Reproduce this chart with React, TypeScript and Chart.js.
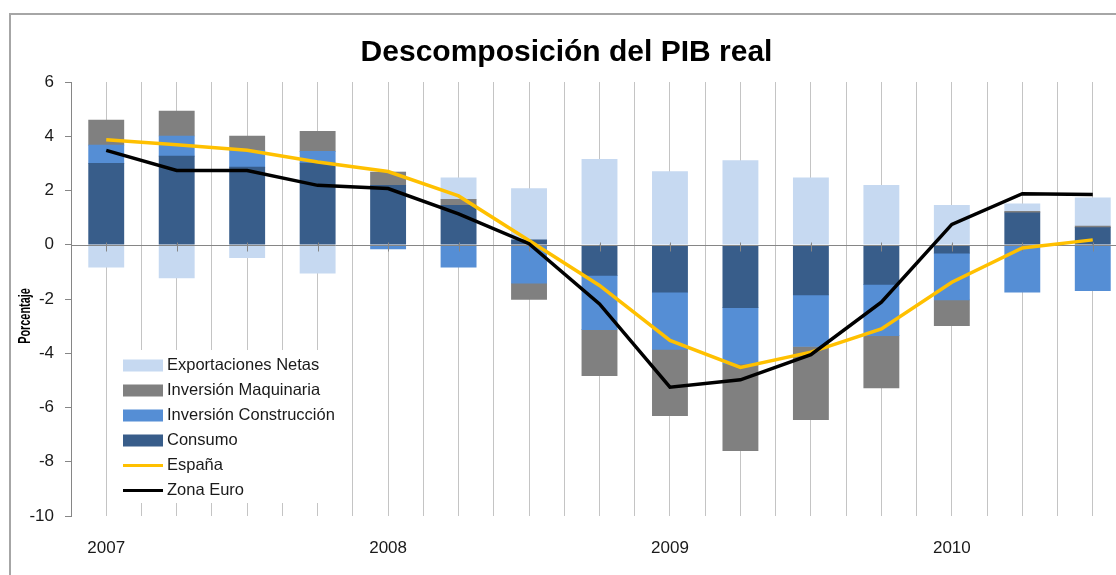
import React, { useEffect, useRef } from 'react';
import { Chart, registerables } from 'chart.js';

Chart.register(...registerables);

// ---- Data ----
const QUARTERS = [
  '2007 T1', '2007 T2', '2007 T3', '2007 T4',
  '2008 T1', '2008 T2', '2008 T3', '2008 T4',
  '2009 T1', '2009 T2', '2009 T3', '2009 T4',
  '2010 T1', '2010 T2', '2010 T3',
];
const YEAR_LABELS = ['2007', '2008', '2009', '2010'];
const Y_MIN = -10;
const Y_MAX = 6;
const Y_STEP = 2;

const CONSUMO = [3.0, 3.27, 2.86, 3.01, 2.19, 1.45, 0.18, -1.13, -1.75, -2.32, -1.85, -1.46, -0.31, 1.18, 0.63];
const CONSTRUCCION = [0.67, 0.74, 0.62, 0.43, -0.15, -0.83, -1.42, -2.0, -2.11, -2.07, -1.9, -1.89, -1.72, -1.75, -1.69];
const MAQUINARIA = [0.93, 0.92, 0.53, 0.74, 0.49, 0.22, -0.6, -1.7, -2.44, -3.2, -2.7, -1.93, -0.95, 0.05, 0.06];
const EXPORTACIONES = [-0.83, -1.22, -0.48, -1.05, 0.0, 0.8, 1.89, 3.15, 2.7, 3.1, 2.47, 2.19, 1.45, 0.28, 1.04];
const ESPANA = [3.87, 3.69, 3.48, 3.05, 2.7, 1.8, 0.16, -1.5, -3.53, -4.52, -3.96, -3.1, -1.38, -0.12, 0.18];
const ZONA_EURO = [3.48, 2.74, 2.74, 2.19, 2.07, 1.14, 0.04, -2.18, -5.25, -4.98, -4.05, -2.12, 0.75, 1.88, 1.85];

const TITLE = 'Descomposición del PIB real';
const Y_TITLE = 'Porcentaje';

const C_CONSUMO = '#385D8A';
const C_CONSTR = '#558ED5';
const C_MAQ = '#808080';
const C_EXPORT = '#C6D9F1';
const C_ESP = '#FFC000';
const C_EURO = '#000000';

const FONT = '"Liberation Sans", Arial, sans-serif';
const TEXT = '#1a1a1a';

const CANVAS_W = 1150;
const CANVAS_H = 575;

const toPoints = (arr: number[]) => arr.map((v, i) => ({ x: i, y: v }));

const decorPlugin = {
  id: 'decor',
  beforeDraw(chart: any) {
    const ctx = chart.ctx;
    ctx.save();
    ctx.fillStyle = '#ffffff';
    ctx.fillRect(0, 0, chart.width, chart.height);
    ctx.strokeStyle = '#A6A6A6';
    ctx.lineWidth = 2;
    ctx.strokeRect(10, 14, chart.width + 50, chart.height + 50);
    ctx.restore();
  },
  beforeDatasetsDraw(chart: any) {
    chart.$zeroDone = false;
  },
  beforeDatasetDraw(chart: any, args: any) {
    if (chart.$zeroDone) return;
    if (args.meta.type !== 'line') return;
    chart.$zeroDone = true;
    const ctx = chart.ctx;
    const xs = chart.scales.x;
    const ys = chart.scales.y;
    const y0 = Math.round(ys.getPixelForValue(0)) + 0.5;
    ctx.save();
    ctx.strokeStyle = '#868686';
    ctx.lineWidth = 1;
    ctx.beginPath();
    ctx.moveTo(chart.chartArea.left, y0);
    ctx.lineTo(chart.chartArea.right, y0);
    QUARTERS.forEach((_, i) => {
      const px = Math.round(xs.getPixelForValue(i)) + 0.5;
      ctx.moveTo(px, y0 - 3);
      ctx.lineTo(px, y0 + 6);
    });
    ctx.stroke();
    ctx.restore();
  },
  afterDraw(chart: any) {
    const ctx = chart.ctx;
    ctx.save();
    // Title
    ctx.fillStyle = '#000';
    ctx.font = `bold 30px ${FONT}`;
    ctx.textAlign = 'center';
    ctx.textBaseline = 'alphabetic';
    ctx.fillText(TITLE, 566.5, 61);

    // Y axis title (condensed bold)
    ctx.save();
    ctx.translate(25, 316);
    ctx.rotate(-Math.PI / 2);
    ctx.scale(0.64, 1);
    ctx.font = `bold 17px ${FONT}`;
    ctx.textAlign = 'center';
    ctx.textBaseline = 'middle';
    ctx.fillText(Y_TITLE, 0, 0);
    ctx.restore();

    // Legend inside plot area
    const items = [
      { label: 'Exportaciones Netas', color: C_EXPORT, kind: 'box' },
      { label: 'Inversión Maquinaria', color: C_MAQ, kind: 'box' },
      { label: 'Inversión Construcción', color: C_CONSTR, kind: 'box' },
      { label: 'Consumo', color: C_CONSUMO, kind: 'box' },
      { label: 'España', color: C_ESP, kind: 'line' },
      { label: 'Zona Euro', color: C_EURO, kind: 'line' },
    ];
    const bx = 114;
    const by = 350;
    ctx.fillStyle = '#ffffff';
    ctx.fillRect(bx, by, 234, 153);
    ctx.font = `16.5px ${FONT}`;
    ctx.textAlign = 'left';
    ctx.textBaseline = 'middle';
    items.forEach((it, k) => {
      const cy = 365.5 + k * 25;
      if (it.kind === 'box') {
        ctx.fillStyle = it.color;
        ctx.fillRect(123, cy - 6, 40, 12);
      } else {
        ctx.strokeStyle = it.color;
        ctx.lineWidth = 3;
        ctx.beginPath();
        ctx.moveTo(123, cy);
        ctx.lineTo(163, cy);
        ctx.stroke();
      }
      ctx.fillStyle = TEXT;
      ctx.fillText(it.label, 167, cy);
    });
    ctx.restore();
  },
};

export default function App() {
  const ref = useRef<HTMLCanvasElement | null>(null);

  useEffect(() => {
    if (!ref.current) return;
    const barCommon = {
      type: 'bar' as const,
      stack: 'pib',
      order: 2,
      barPercentage: 1,
      categoryPercentage: 1,
      borderWidth: 0,
    };
    const chart = new Chart(ref.current, {
      type: 'bar',
      data: {
        datasets: [
          { ...barCommon, label: 'Consumo', data: toPoints(CONSUMO), backgroundColor: C_CONSUMO },
          { ...barCommon, label: 'Inversión Construcción', data: toPoints(CONSTRUCCION), backgroundColor: C_CONSTR },
          { ...barCommon, label: 'Inversión Maquinaria', data: toPoints(MAQUINARIA), backgroundColor: C_MAQ },
          { ...barCommon, label: 'Exportaciones Netas', data: toPoints(EXPORTACIONES), backgroundColor: C_EXPORT },
          {
            type: 'line' as const, label: 'España', data: toPoints(ESPANA), borderColor: C_ESP,
            borderWidth: 3.5, pointRadius: 0, tension: 0, fill: false, order: 1,
          },
          {
            type: 'line' as const, label: 'Zona Euro', data: toPoints(ZONA_EURO), borderColor: C_EURO,
            borderWidth: 3.5, pointRadius: 0, tension: 0, fill: false, order: 0,
          },
        ] as any,
      },
      options: {
        animation: false,
        responsive: false,
        devicePixelRatio: 1,
        layout: { padding: { left: 0, right: 0, top: 82, bottom: 0 } },
        plugins: {
          legend: { display: false },
          title: { display: false },
          tooltip: { enabled: false },
        },
        scales: {
          x: {
            type: 'linear',
            offset: false,
            min: -0.5,
            max: QUARTERS.length - 0.5,
            afterFit: (s: any) => { s.height = 59; },
            grid: { color: '#C4C4C4', lineWidth: 1, drawTicks: false, offset: false },
            border: { display: false },
            ticks: {
              stepSize: 0.5,
              autoSkip: false,
              maxRotation: 0,
              minRotation: 0,
              padding: 22,
              color: TEXT,
              font: { family: FONT, size: 17 },
              callback: (v: any) => {
                const n = Number(v);
                if (Number.isInteger(n) && n % 4 === 0) return YEAR_LABELS[n / 4] ?? '';
                return '';
              },
            },
          },
          y: {
            type: 'linear',
            min: Y_MIN,
            max: Y_MAX,
            afterFit: (s: any) => { s.width = 71; },
            grid: { drawOnChartArea: false, drawTicks: true, tickLength: 6, tickColor: '#868686' },
            border: { display: true, color: '#868686', width: 1 },
            ticks: {
              stepSize: Y_STEP,
              padding: 11,
              color: TEXT,
              font: { family: FONT, size: 17 },
            },
          },
        },
      } as any,
      plugins: [decorPlugin],
    });
    return () => chart.destroy();
  }, []);

  return (
    <div style={{ position: 'fixed', left: 0, top: 0, width: 1116, height: 575, overflow: 'hidden', background: '#fff' }}>
      <div style={{ position: 'absolute', left: 0, top: 0, width: CANVAS_W, height: CANVAS_H }}>
        <canvas
          ref={ref}
          width={CANVAS_W}
          height={CANVAS_H}
          style={{ display: 'block', width: CANVAS_W, height: CANVAS_H }}
        />
      </div>
    </div>
  );
}
